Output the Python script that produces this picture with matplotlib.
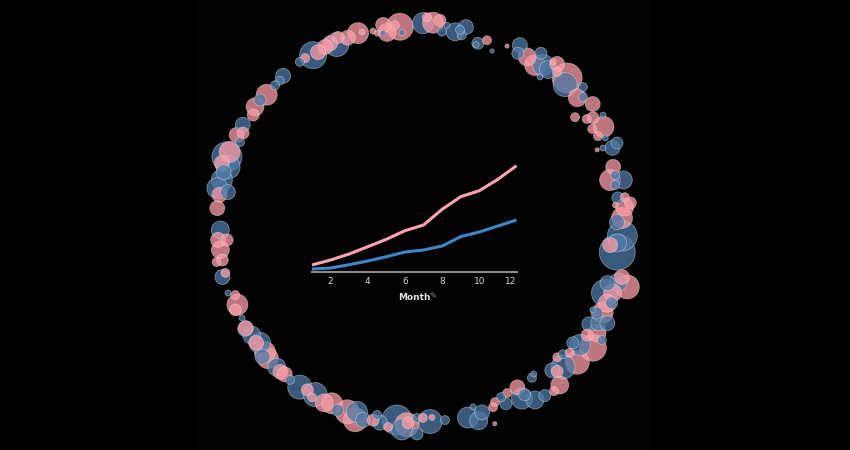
import matplotlib.pyplot as plt
from matplotlib.patches import Circle, Rectangle
import numpy as np

# Monthly trend (centre chart)
months = np.arange(1, 13)
pink_sales = [6.7, 11.7, 17.7, 25.0, 32.4, 41.0, 46.7, 62.4, 75.0, 81.0, 92.4, 106.0]
blue_sales = [2.7, 3.7, 7.0, 10.7, 15.0, 19.7, 21.7, 25.7, 35.0, 39.7, 45.7, 51.7]
tick_months = [2, 4, 6, 8, 10, 12]

# Ring of bubbles: angle (deg, clockwise from top), radial offset, value, group
bubble_angle = [
    -5.1, -6.5, -9.9, -9.1, -10.4, -13.2, -12.1, -17.6, -16.4, -20.9, -23.5, -24.7,
    -26.3, -28.1, -30.7, -32.4, -34.8, -36.7, -43.1, -44.8, -46.7, -50.4, -52.8, -55.3,
    -57.6, -61.6, -65.0, -63.7, -66.5, -71.9, -70.3, -74.6, -74.0, -76.4, -78.7, -81.2,
    -83.0, -81.9, -86.9, -93.2, -96.0, -96.3, -98.9, -101.9, -102.1, -106.6, -105.7, -111.4,
    -112.7, -115.5, -116.6, -119.5, -122.6, -122.5, -125.1, -127.6, -128.3, -131.2, -131.7, -133.0,
    -136.6, -138.2, -139.6, -141.7, -145.1, -147.3, -149.9, -149.5, -153.2, -155.2, -157.5, -160.1,
    -162.7, -162.9, -165.0, -167.7, -168.5, -169.7, -172.1, -174.3, -175.9, -177.2, -177.5, 180.0,
    180.0, 178.3, 176.3, 175.7, 172.1, 165.6, 163.0, 163.4, 161.4, 159.2, 158.0, 156.9,
    154.3, 154.7, 152.6, 149.2, 149.7, 148.5, 146.9, 144.1, 144.1, 143.0, 141.5, 139.3,
    138.2, 137.4, 135.4, 134.6, 131.8, 132.8, 131.2, 128.5, 127.7, 126.2, 124.3, 122.3,
    123.2, 121.4, 119.9, 118.7, 116.8, 117.6, 113.3, 117.3, 113.9, 111.5, 110.7, 107.9,
    107.4, 108.6, 105.8, 99.4, 97.7, 96.8, 94.7, 89.7, 90.9, 86.7, 84.0, 84.0,
    85.7, 86.0, 80.3, 79.3, 78.6, 77.5, 75.1, 70.0, 69.2, 69.1, 69.0, 63.7,
    66.7, 65.4, 62.8, 60.1, 59.5, 57.2, 60.8, 56.8, 53.7, 52.9, 51.5, 46.8,
    47.8, 43.6, 42.1, 40.9, 41.3, 39.3, 37.5, 40.9, 36.8, 34.2, 30.6, 31.3,
    27.5, 24.1, 21.4, 19.1, 18.7, 14.3, 11.5, 12.8, 13.7, 7.6, 6.6, 4.7,
    2.8, 1.8, 8.8, -4.6,
]
bubble_offset = [
    -6, -4, -2, -10, -10, -6, -9, -4, -4, -5, -1, -7,
    -3, -4, -5, -5, -3, -3, -3, -4, -4, -4, -2, -2,
    -5, -1, 0, -5, -6, 1, 0, -3, 4, 0, 0, 3,
    0, -8, 1, -2, 1, -8, 0, 0, 6, 4, 0, 4,
    -2, 0, 4, 2, 5, 4, 3, 4, 1, 3, 8, 5,
    5, 6, 5, 6, 6, 4, 4, 8, 7, 4, 8, 6,
    3, 11, 9, 7, 1, 8, 11, 3, 12, 7, 5, 16,
    0, 0, 4, 0, 4, 6, 12, -3, 5, 20, 4, 0,
    6, -2, -3, -3, 9, 7, 17, 19, -3, -5, 21, 20,
    4, 8, 9, -2, 16, 0, 4, 0, 7, 19, 7, 14,
    22, 3, 10, 18, 9, 4, 13, -1, 9, 3, 10, 22,
    12, 2, 14, 4, -4, 3, 7, 6, 1, 9, 3, 10,
    15, 0, 2, 11, -2, 4, 4, 9, 15, 0, -6, 9,
    6, 0, -2, 4, -2, -11, 14, 11, 7, 2, 13, 7,
    1, 4, 10, 9, 0, 0, -5, -11, 8, -3, 3, -5,
    -4, -15, -7, -13, -15, -1, -8, -5, -10, -10, 1, -2,
    3, -3, -3, -12,
]
bubble_value = [
    81, 9, 25, 36, 4, 4, 4, 49, 4, 25, 16, 64,
    25, 25, 25, 81, 9, 9, 25, 9, 9, 49, 16, 36,
    16, 25, 25, 16, 9, 100, 49, 64, 25, 25, 49, 49,
    25, 25, 25, 36, 25, 16, 36, 16, 9, 25, 9, 4,
    9, 49, 16, 4, 25, 25, 36, 25, 49, 49, 25, 49,
    36, 25, 25, 9, 64, 16, 64, 9, 36, 49, 16, 64,
    49, 64, 25, 16, 9, 25, 9, 100, 49, 64, 16, 16,
    9, 9, 64, 4, 9, 49, 36, 4, 25, 2, 9, 9,
    16, 9, 9, 25, 49, 16, 36, 16, 9, 4, 9, 36,
    25, 16, 64, 9, 64, 9, 9, 16, 49, 81, 16, 36,
    9, 25, 25, 25, 49, 16, 16, 4, 36, 81, 36, 64,
    36, 25, 25, 144, 25, 36, 100, 49, 25, 36, 16, 9,
    16, 4, 9, 36, 49, 9, 25, 25, 16, 4, 2, 49,
    4, 9, 9, 16, 9, 9, 4, 25, 9, 36, 9, 100,
    64, 9, 25, 4, 36, 49, 49, 4, 16, 36, 25, 16,
    2, 2, 9, 16, 4, 25, 36, 9, 9, 9, 16, 49,
    9, 49, 4, 4,
]
bubble_group = (
    "ppppbppppppb"
    "pppbpbbbbpbp"
    "pbppbbpbpbbb"
    "pbpbpppppbpb"
    "pppbbpbpbpbp"
    "bppbbpbpppbp"
    "bpbpbbpbbppb"
    "bpbpbbbbbppp"
    "bbppbbbbbbpp"
    "bpbppbpbbppp"
    "bbbbpbbbpbpp"
    "bbpbpbbpbpbp"
    "ppbbpbpbbbpp"
    "bpppppbpbpbp"
    "bpppbbpbbpbb"
    "pbpbbbbbbbpp"
    "pbbbbpbppbpb"
    "bbpbbpppbppb"
    "pbbp"
)

PINK = "#ff9da7"
BLUE = "#4e79a7"

fig = plt.figure(figsize=(8.5, 4.5), dpi=100, facecolor="#000000")

# background canvas in pixel units
bg = fig.add_axes([0, 0, 1, 1])
bg.set_xlim(0, 850)
bg.set_ylim(450, 0)
bg.axis("off")
bg.add_patch(Rectangle((196, 0), 455, 450, color="#020202", lw=0))

cx, cy, ring_r = 417, 219, 199
scale = 1.5
order = np.argsort(bubble_value)[::-1]
for k, i in enumerate(order):
    th = np.radians(bubble_angle[i])
    rr = ring_r + bubble_offset[i]
    x = cx + rr * np.sin(th)
    y = cy - rr * np.cos(th)
    rad = scale * np.sqrt(bubble_value[i])
    col = PINK if bubble_group[i] == "p" else BLUE
    bg.add_patch(Circle((x, y), rad, facecolor=col,
                        alpha=0.75, edgecolor="none", zorder=2 + k * 0.001))
    bg.add_patch(Circle((x, y), rad, facecolor="none",
                        edgecolor="#e8e8e8", alpha=0.45, lw=0.6,
                        zorder=2 + k * 0.001))

# centre line chart
ax = fig.add_axes([312 / 850, (450 - 271.7) / 450, 204.5 / 850, 110 / 450])
ax.set_facecolor("none")
ax.plot(months, pink_sales, color="#ffa3b2", lw=2.2, clip_on=False,
        solid_capstyle="butt")
ax.plot(months, blue_sales, color="#3f86c8", lw=2.2, clip_on=False,
        solid_capstyle="butt")
ax.set_xlim(1, 12)
ax.set_ylim(0, 110)
for s in ["top", "right", "left"]:
    ax.spines[s].set_visible(False)
ax.spines["bottom"].set_color("#8c8c8c")
ax.spines["bottom"].set_linewidth(1.5)
ax.set_yticks([])
ax.set_xticks(tick_months)
ax.set_xticklabels([str(m) for m in tick_months])
ax.tick_params(axis="x", length=0, pad=4, labelsize=6.5, labelcolor="#d8d8d8")
ax.get_xticklabels()[-1].set_horizontalalignment("right")
ax.get_xticklabels()[-1].set_x(12.35)
ax.set_xlabel("Month", fontsize=6.5, color="#e0e0e0", labelpad=5,
              fontweight="bold")
fig.text(433 / 850, 1 - 296 / 450, "\u270e", fontsize=6, color="#8a97a8",
         ha="center", va="center")

fig.savefig("out.png", dpi=100, facecolor=fig.get_facecolor())
